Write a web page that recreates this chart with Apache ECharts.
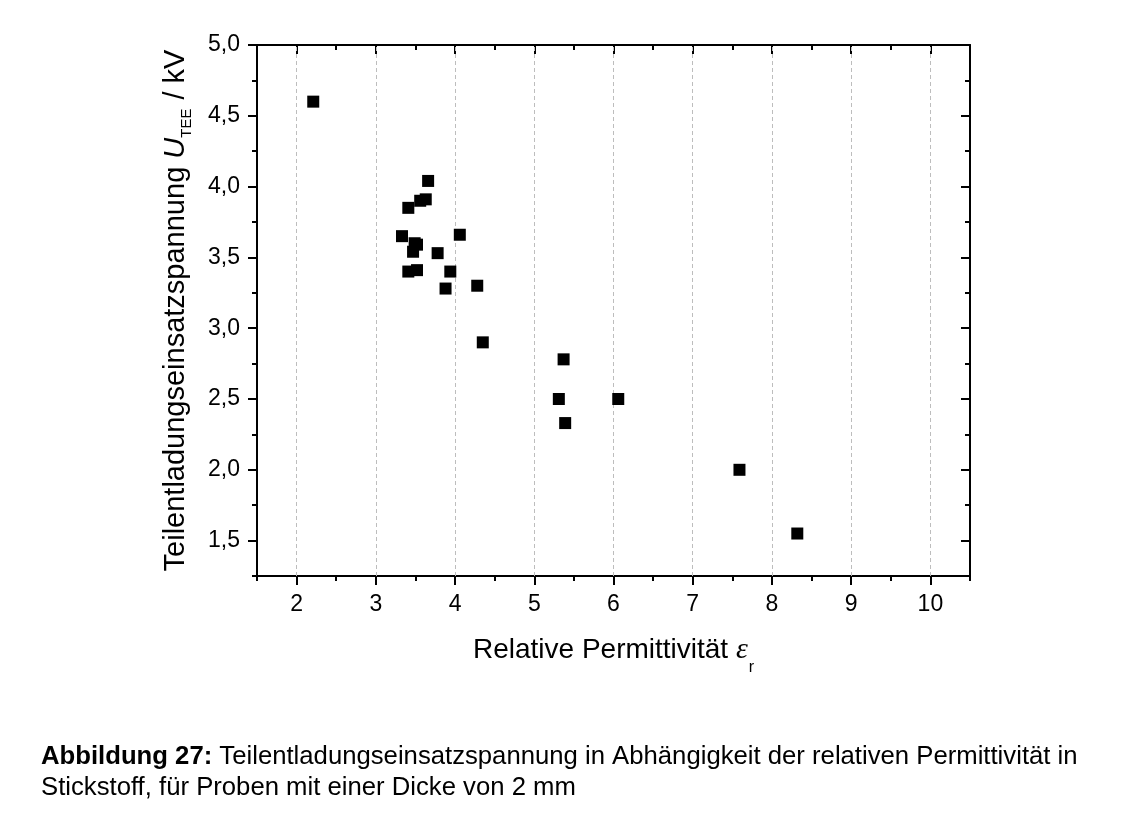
<!DOCTYPE html>
<html><head><meta charset="utf-8">
<script src="https://cdn.jsdelivr.net/npm/echarts@6/dist/echarts.min.js"></script>
<style>html,body{margin:0;padding:0;background:#fff}#c{width:1127px;height:823px}</style>
</head><body><div id="c"></div>
<script>
// data
const permittivity = [2.21, 3.66, 3.63, 3.56, 3.41, 3.33, 4.06, 3.49, 3.52, 3.47, 3.78, 3.41, 3.52, 3.94, 3.88, 4.28, 4.35, 5.37, 5.31, 6.06, 5.39, 7.59, 8.32];
const voltage      = [4.60, 4.04, 3.91, 3.90, 3.85, 3.65, 3.66, 3.60, 3.59, 3.54, 3.53, 3.40, 3.41, 3.40, 3.28, 3.30, 2.90, 2.78, 2.50, 2.50, 2.33, 2.00, 1.55];
// ticks
const xMajorTicks = [2, 3, 4, 5, 6, 7, 8, 9, 10];
const xMinorTicks = [1.5, 2.5, 3.5, 4.5, 5.5, 6.5, 7.5, 8.5, 9.5, 10.5];
const yMajorTicks = [1.5, 2.0, 2.5, 3.0, 3.5, 4.0, 4.5, 5.0];
const yMinorTicks = [1.25, 1.75, 2.25, 2.75, 3.25, 3.75, 4.25, 4.75];

const FONT = "'Liberation Sans', Arial, sans-serif";
const X_MIN = 1.5, X_MAX = 10.5, Y_MIN = 1.25, Y_MAX = 5.0;

function xAx(pos, ticks, len, inside, withLine, extra) {
  return Object.assign({
    type: 'value', position: pos, min: X_MIN, max: X_MAX, interval: 0.5,
    axisLine: { show: withLine, onZero: false, lineStyle: { color: '#000', width: 2 } },
    axisTick: { show: true, inside: inside, length: len, customValues: ticks, lineStyle: { color: '#000', width: 2 } },
    axisLabel: { show: false },
    splitLine: { show: false }
  }, extra || {});
}
function yAx(pos, ticks, len, inside, withLine, extra) {
  return Object.assign({
    type: 'value', position: pos, min: Y_MIN, max: Y_MAX, interval: 0.25,
    axisLine: { show: withLine, onZero: false, lineStyle: { color: '#000', width: 2 } },
    axisTick: { show: true, inside: inside, length: len, customValues: ticks, lineStyle: { color: '#000', width: 2 } },
    axisLabel: { show: false },
    splitLine: { show: false }
  }, extra || {});
}

const option = {
  animation: false,
  backgroundColor: '#fff',
  textStyle: { fontFamily: FONT },
  title: {
    left: 41, top: 742, padding: 0,
    text: '{b|Abbildung 27:}{n| Teilentladungseinsatzspannung in Abhängigkeit der relativen Permittivität in}\n{n|Stickstoff, für Proben mit einer Dicke von 2 mm}',
    textStyle: {
      fontFamily: FONT, fontSize: 25.7, color: '#000', fontWeight: 'normal', lineHeight: 30.5,
      rich: {
        b: { fontFamily: FONT, fontSize: 25.7, fontWeight: 'bold', color: '#000', lineHeight: 30.5 },
        n: { fontFamily: FONT, fontSize: 25.7, fontWeight: 'normal', color: '#000', lineHeight: 30.5 }
      }
    }
  },
  grid: { left: 257, top: 45, right: 157, bottom: 247, containLabel: false },
  xAxis: [
    xAx('bottom', xMajorTicks, 9, false, true, {
      axisLabel: { show: true, customValues: xMajorTicks, fontSize: 23, color: '#000', fontFamily: FONT, margin: 17 },
      name: '{m|Relative Permittivität }{e|ε}{s|r}',
      nameLocation: 'middle', nameGap: 49,
      nameTextStyle: {
        fontFamily: FONT, fontSize: 28, color: '#000',
        rich: {
          m: { fontFamily: FONT, fontSize: 28, color: '#000', lineHeight: 50 },
          e: { fontFamily: "'Liberation Serif', 'DejaVu Serif', serif", fontStyle: 'italic', fontSize: 30, color: '#000', lineHeight: 50 },
          s: { fontFamily: FONT, fontSize: 16, color: '#000', lineHeight: 16, padding: [36, 0, 0, 1] }
        }
      }
    }),
    xAx('bottom', xMinorTicks, 5, false, false),
    xAx('top', xMajorTicks, 9, true, true),
    xAx('top', xMinorTicks, 5, true, false)
  ],
  yAxis: [
    yAx('left', yMajorTicks, 9, false, true, {
      axisLabel: { show: true, customValues: yMajorTicks, fontSize: 23, color: '#000', fontFamily: FONT, margin: 17,
        formatter: v => v.toFixed(1).replace('.', ',') },
      name: '{m|Teilentladungseinsatzspannung }{i|U}{s|TEE}{m| / kV}',
      nameLocation: 'middle', nameGap: 63,
      nameTextStyle: {
        fontFamily: FONT, fontSize: 29, color: '#000',
        rich: {
          m: { fontFamily: FONT, fontSize: 29, color: '#000', lineHeight: 36 },
          i: { fontFamily: FONT, fontStyle: 'italic', fontSize: 29, color: '#000', lineHeight: 36 },
          s: { fontFamily: FONT, fontSize: 15, color: '#000', lineHeight: 15, padding: [22, 1, 0, 0] }
        }
      }
    }),
    yAx('left', yMinorTicks, 5, false, false),
    yAx('right', yMajorTicks, 9, true, true),
    yAx('right', yMinorTicks, 5, true, false)
  ],
  series: [
    {
      type: 'scatter', name: 'grid', data: [], z: 1, silent: true,
      markLine: {
        silent: true, symbol: 'none', label: { show: false },
        lineStyle: { color: '#bdbdbd', width: 1, type: [4, 3] },
        data: xMajorTicks.map(v => ({ xAxis: v }))
      }
    },
    {
      type: 'scatter', name: 'U_TEE', z: 5,
      symbol: 'rect', symbolSize: 12,
      itemStyle: { color: '#000', opacity: 1 },
      data: permittivity.map((x, i) => [x, voltage[i]])
    }
  ]
};
const chart = echarts.init(document.getElementById('c'), null, { renderer: 'canvas' });
chart.setOption(option);
</script>
</body></html>
